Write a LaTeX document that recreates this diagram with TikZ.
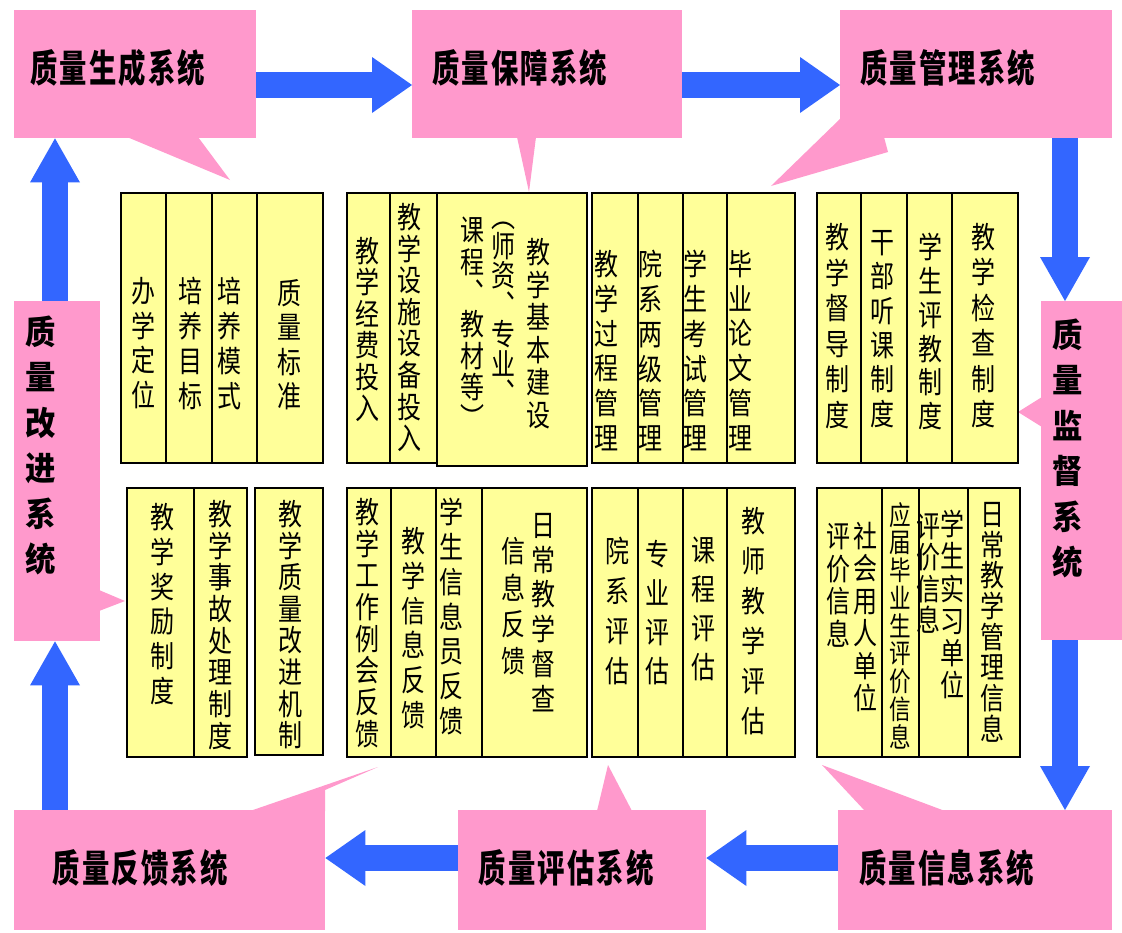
\documentclass[tikz,border=0pt]{standalone}
\usepackage{fontspec}
\usepackage{graphicx}
\setmainfont{Noto Sans CJK SC}
\usetikzlibrary{arrows.meta}
\definecolor{pinkbox}{RGB}{255,153,204}
\definecolor{bluearr}{RGB}{51,102,255}
\definecolor{yel}{RGB}{255,255,153}
\newdimen\hspitch
\def\vtsc{0.8}
\def\vtaux#1{\ifx#1\relax\else\hbox to 1.2em{\hss\scalebox{\vtsc}[1]{#1}\hss}\expandafter\vtaux\fi}
\newcommand\vstk[2]{\vbox{\baselineskip=#1pt\lineskiplimit=-\maxdimen\lineskip=0pt\vtaux#2\relax}}
\def\hsaux#1{\ifx#1\relax\else\hbox to\hspitch{\hss\scalebox{\vtsc}[1]{#1}\hss}\expandafter\hsaux\fi}
\newcommand\hstk[2]{\hbox{\hspitch=#1pt\relax\hsaux#2\relax}}
\newcommand\vt[6][30]{\node[vtxt,font=\fontsize{#1pt}{#1pt}\selectfont] (#2) at (#3,#4) {\vstk{#5}{#6}};}
\tikzset{
  pbox/.style={fill=pinkbox, draw=none, inner sep=0pt, anchor=north west},
  ptr/.style={fill=pinkbox, draw=none},
  htitle/.style={inner sep=0pt, font={\def\vtsc{0.72}\fontsize{38pt}{38pt}\selectfont\bfseries}},
  vtitle/.style={inner sep=0pt, font={\def\vtsc{0.92}\fontsize{33pt}{33pt}\selectfont\bfseries}},
  ycol/.style={draw=black, line width=1.8pt, fill=yel},
  vtxt/.style={inner sep=0pt, anchor=north, text=black},
  harrow/.style={draw=bluearr, line width=26pt, -{Triangle[length=40pt,width=56pt,line width=0pt]}},
  varrow/.style={draw=bluearr, line width=26pt, -{Triangle[length=44pt,width=50pt,line width=0pt]}},
}
\begin{document}
\begin{tikzpicture}[x=1pt,y=-1pt]
\useasboundingbox (0,0) rectangle (1122,932);
\fill[white] (0,0) rectangle (1122,932);
% callout pointers
\fill[ptr] (127,137) -- (198,137) -- (230,180) -- cycle;
\fill[ptr] (517,137) -- (536,137) -- (529,192) -- cycle;
\fill[ptr] (841,118) -- (771,186) -- (888,152) -- (884,137) -- (841,137) -- cycle;
\fill[ptr] (1042,397) -- (1018,412) -- (1042,427) -- cycle;
\fill[ptr] (865,811) -- (822,765) -- (945,811) -- cycle;
\fill[ptr] (597,811) -- (608,765) -- (632,811) -- cycle;
\fill[ptr] (250,811) -- (378,767) -- (325,790) -- (325,811) -- cycle;
\fill[ptr] (99,590) -- (125,601) -- (99,611) -- cycle;
% pink system boxes
\node[pbox, minimum width=242pt, minimum height=128pt,
  label={[htitle, xshift=-17.5pt, yshift=6pt]center:{\hstk{29.5}{质量生成系统}}}] (s1) at (14,10) {};
\node[pbox, minimum width=270pt, minimum height=128pt,
  label={[htitle, xshift=-27.5pt, yshift=6pt]center:{\hstk{29.5}{质量保障系统}}}] (s2) at (412,10) {};
\node[pbox, minimum width=272pt, minimum height=128pt,
  label={[htitle, xshift=-28.5pt, yshift=6pt]center:{\hstk{29.5}{质量管理系统}}}] (s3) at (840,10) {};
\node[pbox, minimum width=81pt, minimum height=339pt,
  label={[vtitle, xshift=-14.5pt, yshift=22.5pt]center:{\vstk{45.5}{质量监督系统}}}] (s4) at (1041,301) {};
\node[pbox, minimum width=274pt, minimum height=120pt,
  label={[htitle, xshift=-28.5pt, yshift=2pt]center:{\hstk{29.5}{质量信息系统}}}] (s5) at (838,810) {};
\node[pbox, minimum width=248pt, minimum height=120pt,
  label={[htitle, xshift=-16pt, yshift=2pt]center:{\hstk{29.5}{质量评估系统}}}] (s6) at (458,810) {};
\node[pbox, minimum width=311pt, minimum height=120pt,
  label={[htitle, xshift=-29.5pt, yshift=2pt]center:{\hstk{29.5}{质量反馈系统}}}] (s7) at (14,810) {};
\node[pbox, minimum width=86pt, minimum height=340pt,
  label={[vtitle, xshift=-17pt, yshift=26pt]center:{\vstk{45.5}{质量改进系统}}}] (s8) at (14,301) {};
% yellow columns, top row
\draw[ycol] (121,193) rectangle (166,463);
\draw[ycol] (166,193) rectangle (212,463);
\draw[ycol] (212,193) rectangle (257,463);
\draw[ycol] (257,193) rectangle (323,463);
\draw[ycol] (347,193) rectangle (390,463);
\draw[ycol] (390,193) rectangle (437,463);
\draw[ycol] (437,193) rectangle (587,466);
\draw[ycol] (592,193) rectangle (638,463);
\draw[ycol] (638,193) rectangle (683,463);
\draw[ycol] (683,193) rectangle (727,463);
\draw[ycol] (727,193) rectangle (795,463);
\draw[ycol] (817,193) rectangle (861,463);
\draw[ycol] (861,193) rectangle (907,463);
\draw[ycol] (907,193) rectangle (952,463);
\draw[ycol] (952,193) rectangle (1018,463);
% yellow columns, bottom row
\draw[ycol] (127,488) rectangle (194,757);
\draw[ycol] (194,488) rectangle (247,757);
\draw[ycol] (255,488) rectangle (323,755);
\draw[ycol] (347,488) rectangle (391,757);
\draw[ycol] (391,488) rectangle (436,757);
\draw[ycol] (436,488) rectangle (482,757);
\draw[ycol] (482,488) rectangle (587,757);
\draw[ycol] (592,488) rectangle (638,757);
\draw[ycol] (638,488) rectangle (683,757);
\draw[ycol] (683,488) rectangle (727,757);
\draw[ycol] (727,488) rectangle (795,757);
\draw[ycol] (817,488) rectangle (882,757);
\draw[ycol] (882,488) rectangle (919,757);
\draw[ycol] (919,488) rectangle (968,757);
\draw[ycol] (968,488) rectangle (1020,757);
% column texts
\vt{ta1}{143}{277}{34.7}{办学定位}
\vt{ta2}{190}{277}{35}{培养目标}
\vt{ta3}{229}{277}{35}{培养模式}
\vt{ta4}{289}{279}{34.5}{质量标准}
\vt{tb1}{367}{237}{31.4}{教学经费投入}
\vt{tb2}{409}{203}{31.6}{教学设施设备投入}
\vt{tb3r}{538}{238}{32.6}{教学基本建设}
\vt{tb3m}{503}{222}{29.5}{︵师资︑专业︑}
\vt{tb3l}{472}{217}{31.3}{课程︑教材等︶}
\vt{tc1}{606}{250}{34.8}{教学过程管理}
\vt{tc2}{650}{250}{34.8}{院系两级管理}
\vt{tc3}{695}{250}{34.8}{学生考试管理}
\vt{tc4}{740}{250}{34.8}{毕业论文管理}
\vt{td1}{837}{223}{35.6}{教学督导制度}
\vt{td2}{882}{230}{34.4}{干部听课制度}
\vt{td3}{930}{233}{33.8}{学生评教制度}
\vt{td4}{983}{223}{35.4}{教学检查制度}
\vt{te1}{162}{503}{34.8}{教学奖励制度}
\vt{te2}{220}{500}{31.7}{教学事故处理制度}
\vt{te3}{290}{500}{31.6}{教学质量改进机制}
\vt{tf1}{367}{498}{31.7}{教学工作例会反馈}
\vt{tf2}{413}{527}{34.8}{教学信息反馈}
\vt{tf3}{451}{498}{34.8}{学生信息员反馈}
\vt{tf4r}{543}{513}{34.8}{日常教学督查}
\vt{tf4l}{513}{537}{36.7}{信息反馈}
\vt{tg1}{617}{537}{40}{院系评估}
\vt{tg2}{657}{540}{39}{专业评估}
\vt{tg3}{703}{537}{39}{课程评估}
\vt{tg4}{753}{507}{40}{教师教学评估}
\vt{th1r}{865}{522}{32.4}{社会用人单位}
\vt{th1l}{838}{523}{32.7}{评价信息}
\vt[27]{th2}{900}{502}{27.75}{应届毕业生评价信息}
\vt{th3r}{952}{510}{32.2}{学生实习单位}
\vt{th3l}{928}{513}{31.3}{评价信息}
\vt{th4}{992}{502}{30.7}{日常教学管理信息}
% block arrows
\coordinate (rx) at (1065,0);
\coordinate (lx) at (55,0);
\coordinate (ty) at (0,85);
\coordinate (by) at (0,858);
\draw[harrow] (s1.east |- ty) -- (s2.west |- ty);
\draw[harrow] (s2.east |- ty) -- (s3.west |- ty);
\draw[varrow] (s3.south -| rx) -- (s4.north -| rx);
\draw[varrow] (s4.south -| rx) -- (s5.north -| rx);
\draw[harrow] (s5.west |- by) -- (s6.east |- by);
\draw[harrow] (s6.west |- by) -- (s7.east |- by);
\draw[varrow] (s7.north -| lx) -- (s8.south -| lx);
\draw[varrow] (s8.north -| lx) -- (s1.south -| lx);
\end{tikzpicture}
\end{document}
